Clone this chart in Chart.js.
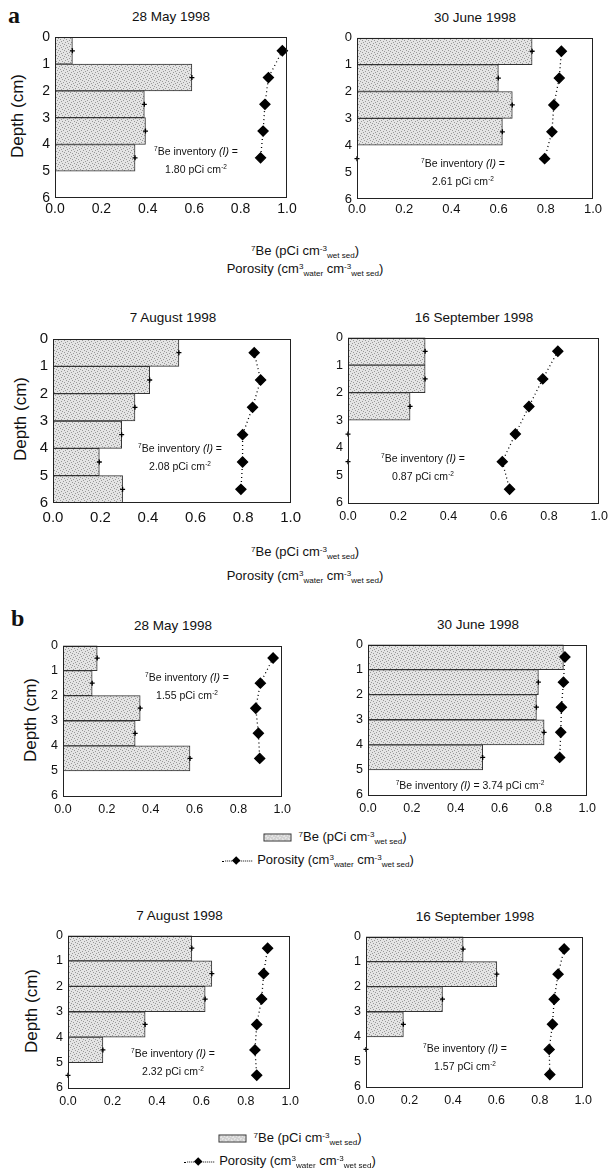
<!DOCTYPE html>
<html>
<head>
<meta charset="utf-8">
<script src="https://cdn.jsdelivr.net/npm/chart.js@4.4.0/dist/chart.umd.min.js"></script>
<style>
  body { margin: 0; background: #fff; width: 608px; height: 1171px; position: relative; overflow: hidden;
         font-family: "Liberation Sans", Arial, sans-serif; color: #111; }
  .t { position: absolute; white-space: nowrap; transform: translate(-50%, -50%); }
  .inv { position: absolute; white-space: nowrap; transform: translateX(-50%); text-align: center;
         font-size: 10.5px; line-height: 16px; }
  .depth { position: absolute; white-space: nowrap; font-size: 17px; transform: translate(-50%, -50%) rotate(-90deg); }
  .letter { position: absolute; font-family: "Liberation Serif", serif; font-weight: bold; font-size: 24px; }
  .sup { font-size: 0.62em; position: relative; top: -0.55em; }
  .sub { font-size: 0.62em; position: relative; top: 0.35em; }
  .swatch { display: inline-block; width: 26px; height: 6px; border: 1px solid #333; vertical-align: middle; margin-right: 7px; }
  .dline { display: inline-block; position: relative; width: 30px; height: 8px; vertical-align: middle; margin-right: 5px; }
  .dline::before { content: ""; position: absolute; left: 0; right: 0; top: 4px; border-top: 1px dotted #000; }
  .dline::after { content: ""; position: absolute; left: 11px; top: 1px; width: 6px; height: 6px; background: #000; transform: rotate(45deg); }
</style>
</head>
<body>
<script>
// depth interval mid-points (cm)
const depthMid = [0.5, 1.5, 2.5, 3.5, 4.5, 5.5];
const xTicks = [0, 0.2, 0.4, 0.6, 0.8, 1.0];
const yTicks = [0, 1, 2, 3, 4, 5, 6];
const dates = ["28 May 1998", "30 June 1998", "7 August 1998", "16 September 1998"];

// site a: 7Be (pCi cm-3) per 1 cm interval, porosity at interval mid-points
const beA_May = [0.075, 0.59, 0.385, 0.39, 0.345];
const porA_May = [0.98, 0.92, 0.905, 0.897, 0.886];
const beA_Jun = [0.742, 0.599, 0.658, 0.616, 0];
const porA_Jun = [0.866, 0.857, 0.834, 0.826, 0.795];
const beA_Aug = [0.53, 0.407, 0.345, 0.289, 0.195, 0.293];
const porA_Aug = [0.847, 0.874, 0.84, 0.798, 0.798, 0.791];
const beA_Sep = [0.307, 0.307, 0.247, 0, 0];
const porA_Sep = [0.835, 0.775, 0.72, 0.666, 0.614, 0.643];

// site b
const beB_May = [0.156, 0.133, 0.352, 0.329, 0.579];
const porB_May = [0.958, 0.90, 0.879, 0.891, 0.897];
const beB_Jun = [0.891, 0.777, 0.768, 0.803, 0.523];
const porB_Jun = [0.898, 0.891, 0.882, 0.879, 0.874];
const beB_Aug = [0.557, 0.647, 0.617, 0.347, 0.157, 0];
const porB_Aug = [0.898, 0.88, 0.871, 0.849, 0.841, 0.849];
const beB_Sep = [0.447, 0.602, 0.352, 0.172, 0];
const porB_Sep = [0.912, 0.884, 0.866, 0.858, 0.843, 0.846];

const inventories = ["1.80", "2.61", "2.08", "0.87", "1.55", "3.74", "2.32", "1.57"];

// layout of each panel (plot box in page pixels)
const panels = [
  { be: beA_May, por: porA_May, date: 0, inv: 0, L: 55, R: 287, T: 34, B: 198, tf: 14, tp: 3, invX: 196, invY: 143, depthX: 18 },
  { be: beA_Jun, por: porA_Jun, date: 1, inv: 1, L: 357, R: 593, T: 35, B: 199, tf: 13, tp: 3, invX: 463, invY: 155 },
  { be: beA_Aug, por: porA_Aug, date: 2, inv: 2, L: 53, R: 293, T: 335, B: 503, tf: 15, tp: 6, invX: 180, invY: 440, depthX: 21 },
  { be: beA_Sep, por: porA_Sep, date: 3, inv: 3, L: 348, R: 600, T: 335, B: 503, tf: 12.5, tp: 6, invX: 423, invY: 450 },
  { be: beB_May, por: porB_May, date: 0, inv: 4, L: 63, R: 283, T: 643, B: 796, tf: 12.5, tp: 6, invX: 187, invY: 669, depthX: 31 },
  { be: beB_Jun, por: porB_Jun, date: 1, inv: 5, L: 368, R: 588, T: 642, B: 795, tf: 12.5, tp: 6, invX: 470, invY: 777, oneLine: true },
  { be: beB_Aug, por: porB_Aug, date: 2, inv: 6, L: 68, R: 291, T: 933, B: 1088, tf: 12.5, tp: 6, invX: 173, invY: 1045, depthX: 32 },
  { be: beB_Sep, por: porB_Sep, date: 3, inv: 7, L: 366, R: 584, T: 934, B: 1087, tf: 12.5, tp: 6, invX: 465, invY: 1040 }
];

function makeTile() {
  const c = document.createElement("canvas");
  c.width = 6; c.height = 6;
  const g = c.getContext("2d");
  g.fillStyle = "#e4e4e4";
  g.fillRect(0, 0, 6, 6);
  g.fillStyle = "#999";
  [[0, 0], [3, 1], [1, 3], [4, 4], [5, 2], [2, 5]].forEach(([x, y]) => g.fillRect(x, y, 1, 1));
  return c;
}
const tile = makeTile();
const barFill = tile.getContext("2d").createPattern(tile, "repeat");

const framePlugin = {
  id: "frame",
  afterDatasetsDraw(chart) {
    const { ctx, chartArea: a } = chart;
    ctx.save();
    ctx.strokeStyle = "#222";
    ctx.lineWidth = 1;
    ctx.strokeRect(Math.round(a.left) + 0.5, Math.round(a.top) + 0.5, Math.round(a.width) - 1, Math.round(a.height) - 1);
    ctx.restore();
  }
};

function addText(html, cls, x, y, style) {
  const d = document.createElement("div");
  d.className = cls;
  d.style.left = x + "px";
  d.style.top = y + "px";
  if (style) d.style.cssText += style;
  d.innerHTML = html;
  document.body.appendChild(d);
}

function makePanel(p) {
  const yW = 20, padTop = 10, padRight = 14, xH = 26;
  const w = p.R - p.L + yW + padRight;
  const h = p.B - p.T + padTop + xH;
  const canvas = document.createElement("canvas");
  canvas.width = w; canvas.height = h;
  canvas.style.cssText = `position:absolute;left:${p.L - yW}px;top:${p.T - padTop}px;width:${w}px;height:${h}px`;
  document.body.appendChild(canvas);

  const bars = p.be.map((v, i) => ({ x: v, y: depthMid[i] })).filter(d => d.x > 0);
  const errs = p.be.map((v, i) => ({ x: v, y: depthMid[i] }));
  const por = p.por.map((v, i) => ({ x: v, y: depthMid[i] }));
  const font = { family: "'Liberation Sans', Arial, sans-serif", size: p.tf };

  new Chart(canvas, {
    type: "bar",
    data: {
      datasets: [
        {
          type: "line",
          data: por,
          order: 0,
          borderColor: "#000",
          borderWidth: 1.3,
          borderDash: [1, 3],
          pointStyle: "rectRot",
          pointRadius: 5,
          pointBackgroundColor: "#000",
          pointBorderColor: "#000",
          clip: false
        },
        {
          type: "line",
          data: errs,
          order: 1,
          showLine: false,
          pointStyle: "cross",
          pointRadius: 2.5,
          pointBorderWidth: 1.3,
          pointBorderColor: "#000",
          clip: false
        },
        {
          type: "bar",
          data: bars,
          order: 2,
          backgroundColor: barFill,
          borderColor: "#333",
          borderWidth: 1,
          borderSkipped: false,
          categoryPercentage: 1,
          barPercentage: 1
        }
      ]
    },
    options: {
      indexAxis: "y",
      responsive: false,
      animation: false,
      devicePixelRatio: 1,
      layout: { padding: { top: padTop, right: padRight, left: 0, bottom: 0 } },
      plugins: { legend: { display: false }, tooltip: { enabled: false } },
      scales: {
        x: {
          type: "linear",
          min: 0,
          max: 1,
          offset: false,
          afterBuildTicks: s => { s.ticks = xTicks.map(v => ({ value: v })); },
          afterFit: s => { s.height = xH; },
          grid: { display: false, drawTicks: false, offset: false },
          border: { display: false },
          ticks: { color: "#111", font, padding: p.tp, maxRotation: 0, callback: v => v.toFixed(1) }
        },
        y: {
          type: "linear",
          min: 0,
          max: 6,
          reverse: true,
          offset: false,
          afterBuildTicks: s => { s.ticks = yTicks.map(v => ({ value: v })); },
          afterFit: s => { s.width = yW; },
          grid: { display: false, drawTicks: false, offset: false },
          border: { display: false },
          ticks: { color: "#111", font, padding: 5, callback: v => String(v) }
        }
      }
    },
    plugins: [framePlugin]
  });

  const cx = (p.L + p.R) / 2;
  addText(dates[p.date], "t", cx, p.T - 18, "font-size:13.5px");
  const inv = inventories[p.inv];
  const invHtml = p.oneLine
    ? `<span class="sup">7</span>Be inventory <i>(I)</i> = ${inv} pCi cm<span class="sup">-2</span>`
    : `<span class="sup">7</span>Be inventory <i>(I)</i> =<br>${inv} pCi cm<span class="sup">-2</span>`;
  addText(invHtml, "inv", p.invX, p.invY);
  if (p.depthX) addText("Depth (cm)", "depth", p.depthX, (p.T + p.B) / 2);
}

panels.forEach(makePanel);

addText("a", "letter", 8, 2);
addText("b", "letter", 11, 605);

const beLabel = `<span class="sup">7</span>Be (pCi cm<span class="sup">-3</span><span class="sub">wet sed</span>)`;
const porLabel = `Porosity (cm<span class="sup">3</span><span class="sub">water</span> cm<span class="sup">-3</span><span class="sub">wet sed</span>)`;

addText(beLabel, "t", 305, 250, "font-size:13px");
addText(porLabel, "t", 305, 268, "font-size:13px");
addText(beLabel, "t", 305, 551, "font-size:13px");
addText(porLabel, "t", 305, 575, "font-size:13px");

const tileUrl = tile.toDataURL();
const swatch = `<span class="swatch" style="background-image:url(${tileUrl})"></span>`;
const dline = `<span class="dline"></span>`;
addText(swatch + beLabel, "t", 335, 836, "font-size:13px");
addText(dline + porLabel, "t", 318, 859, "font-size:13px");
addText(swatch + beLabel, "t", 290, 1137, "font-size:13px");
addText(dline + porLabel, "t", 280, 1160, "font-size:13px");
</script>
</body>
</html>
